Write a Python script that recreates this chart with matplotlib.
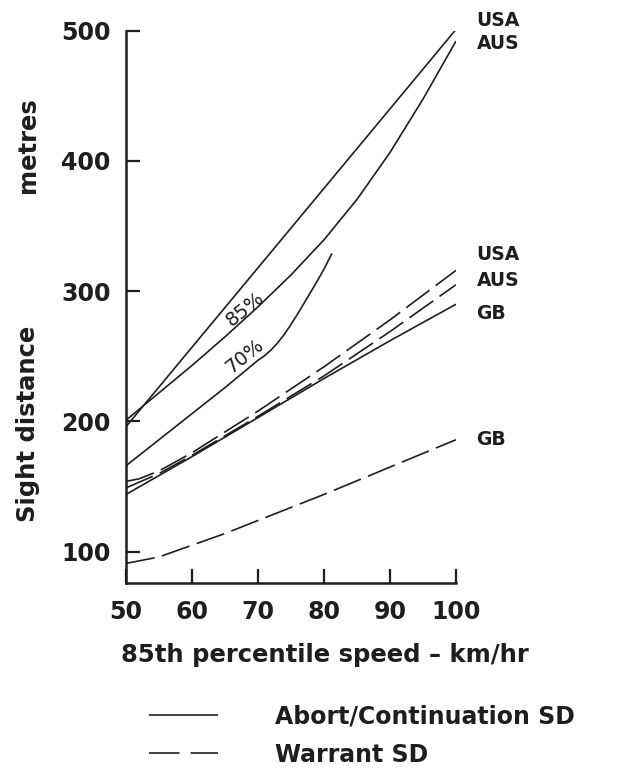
import matplotlib
matplotlib.use("Agg")
import matplotlib.pyplot as plt
from matplotlib.lines import Line2D

plt.rcParams['font.family'] = ['DejaVu Sans']
plt.rcParams['lines.scale_dashes'] = False

INK = '#1e1e1e'

# 85th percentile speed (km/h) and sight distance (m) for each curve
speed_usa_abort = [50, 60, 70, 80, 90, 100]
sd_usa_abort = [196, 257, 318, 379, 440, 501]

speed_aus_abort = [50, 55, 60, 65, 70, 75, 80, 85, 90, 95, 100]
sd_aus_abort = [201, 222, 243, 265, 288, 312.5, 339.5, 370.5, 406.5, 447.5, 492]

speed_aus_abort_70 = [50, 55, 60, 65, 70, 71, 72, 73, 74, 75, 76, 77, 78, 79, 80, 81.2]
sd_aus_abort_70 = [166, 186, 206, 226, 247, 250.5, 255, 260.5, 267, 274.5, 282.5, 291,
                   299.5, 308, 317, 329]

speed_gb_abort = [50, 60, 70, 80, 90, 100]
sd_gb_abort = [144, 173, 203, 233, 262, 290]

speed_usa_warrant = [50, 52, 55, 60, 70, 80, 90, 100]
sd_usa_warrant = [154, 156, 162, 176, 208, 242, 278, 316]

speed_aus_warrant = [50, 55, 60, 70, 80, 90, 100]
sd_aus_warrant = [149, 160, 174, 204, 235, 269, 305]

speed_gb_warrant = [50, 55, 60, 65, 70, 80, 90, 100]
sd_gb_warrant = [91, 96, 105, 114, 124, 144, 165, 186]

x_ticks = [50, 60, 70, 80, 90, 100]
y_ticks = [100, 200, 300, 400, 500]

end_labels = [("USA", 508), ("AUS", 490), ("USA", 328), ("AUS", 308), ("GB", 283), ("GB", 186)]

fig = plt.figure(figsize=(6.25, 7.68), dpi=100)
ax = fig.add_axes([126 / 625, 1 - 583 / 768, (456 - 126) / 625, (583 - 30.7) / 768])
ax.set_xlim(50, 100)
ax.set_ylim(76, 500)

solid_kw = dict(color=INK, lw=1.2, solid_capstyle='butt', solid_joinstyle='round')
dash_kw = dict(color=INK, lw=1.2, linestyle=(0, (21, 5.5)), dash_capstyle='butt')

ax.plot(speed_usa_abort, sd_usa_abort, **solid_kw)
ax.plot(speed_aus_abort, sd_aus_abort, **solid_kw)
ax.plot(speed_aus_abort_70, sd_aus_abort_70, **solid_kw)
ax.plot(speed_gb_abort, sd_gb_abort, **solid_kw)
ax.plot(speed_usa_warrant, sd_usa_warrant, **dash_kw)
ax.plot(speed_aus_warrant, sd_aus_warrant, **dash_kw)
ax.plot(speed_gb_warrant, sd_gb_warrant, **dash_kw)

# curve annotations
ax.text(68.0, 286, "85%", rotation=39, fontsize=14, color=INK,
        ha='center', va='center', rotation_mode='anchor')
ax.text(68.0, 250.5, "70%", rotation=39, fontsize=14, color=INK,
        ha='center', va='center', rotation_mode='anchor')

for name, yv in end_labels:
    ax.text(103.1, yv, name, fontsize=13.5, fontweight='bold', color=INK,
            ha='left', va='center', clip_on=False)

# axes styling
for side in ('top', 'right'):
    ax.spines[side].set_visible(False)
for side in ('left', 'bottom'):
    ax.spines[side].set_linewidth(1.8)
    ax.spines[side].set_color(INK)

ax.set_xticks(x_ticks)
ax.set_yticks(y_ticks)
ax.set_xticklabels([str(v) for v in x_ticks])
ax.set_yticklabels([str(v) for v in y_ticks])
ax.tick_params(axis='both', direction='in', length=10, width=1.6, color=INK,
               labelsize=17, labelcolor=INK)
ax.tick_params(axis='y', pad=11)
ax.tick_params(axis='x', pad=12)
for lab in ax.get_xticklabels() + ax.get_yticklabels():
    lab.set_fontweight('bold')

fig.text(325 / 625, 1 - 655 / 768, "85th percentile speed \u2013 km/hr",
         fontsize=17.5, fontweight='bold', color=INK, ha='center', va='center')
fig.text(28 / 625, 1 - 424 / 768, "Sight distance", rotation=90,
         fontsize=17.5, fontweight='bold', color=INK, ha='center', va='center')
fig.text(28 / 625, 1 - 145 / 768, "metres", rotation=90,
         fontsize=17.5, fontweight='bold', color=INK, ha='center', va='center')

handles = [Line2D([], [], **solid_kw),
           Line2D([], [], color=INK, lw=1.2, linestyle=(0, (22, 8)))]
fig.legend(handles, ["Abort/Continuation SD", "Warrant SD"],
           loc='upper left', bbox_to_anchor=(140 / 625, 1 - 695 / 768),
           frameon=False, handlelength=2.9, handletextpad=2.4,
           labelspacing=0.6, borderaxespad=0,
           prop=dict(size=17, weight='bold'), labelcolor=INK)

fig.savefig("out.png", dpi=100, facecolor='white')
